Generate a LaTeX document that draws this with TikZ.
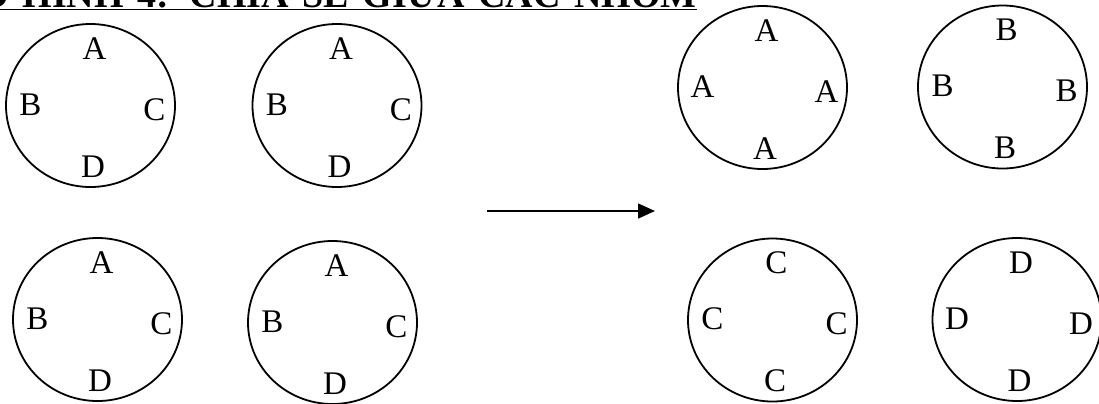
\documentclass[tikz,border=0pt]{standalone}
\usepackage{fontspec}
\setmainfont{Liberation Serif}
\usetikzlibrary{arrows.meta}

\begin{document}
\begin{tikzpicture}[x=0.5pt,y=-0.5pt,
  group/.style={line width=0.9pt},
  member/.style={inner sep=0,font=\fontsize{16.5}{20}\selectfont}]
\useasboundingbox (0,0) rectangle (1099,403);

\node[anchor=base east, inner sep=0, font=\fontsize{19}{23}\selectfont\bfseries] (title) at (697,7)
  {\makebox[376.5pt][s]{MÔ HÌNH 4: CHIA SẺ GIỮA CÁC NHÓM}};
\draw[line width=0.8pt] ([yshift=-1.25pt]title.base west) -- ([yshift=-1.25pt]title.base east);

\coordinate (g1) at (90.5,105.5);
\coordinate (g2) at (337,105.5);
\coordinate (g3) at (97.5,319.5);
\coordinate (g4) at (332.5,322.5);
\coordinate (h1) at (762.5,87.5);
\coordinate (h2) at (1002.5,87);
\coordinate (h3) at (772.5,320);
\coordinate (h4) at (1017,319.5);

\foreach \c/\n/\w/\e/\s in {g1/A/B/C/D, g2/A/B/C/D, g3/A/B/C/D, g4/A/B/C/D,
                            h1/A/A/A/A, h2/B/B/B/B, h3/C/C/C/C, h4/D/D/D/D} {
  \draw[group] (\c) ellipse [x radius=42.25pt, y radius=40.75pt];
  \node[member] (\c-n) at ([shift={(4,-57)}]\c) {\n};
  \node[member] (\c-w) at ([shift={(-60,-1)}]\c) {\w};
  \node[member] (\c-e) at ([shift={(64,4)}]\c) {\e};
  \node[member] (\c-s) at ([shift={(2.5,61)}]\c) {\s};
}

\coordinate (from) at (487,211);
\coordinate (to) at (655,211);
\draw[line width=0.75pt, -{Triangle[length=8.5pt, width=7.5pt]}] (from) -- (to);

\end{tikzpicture}
\end{document}
